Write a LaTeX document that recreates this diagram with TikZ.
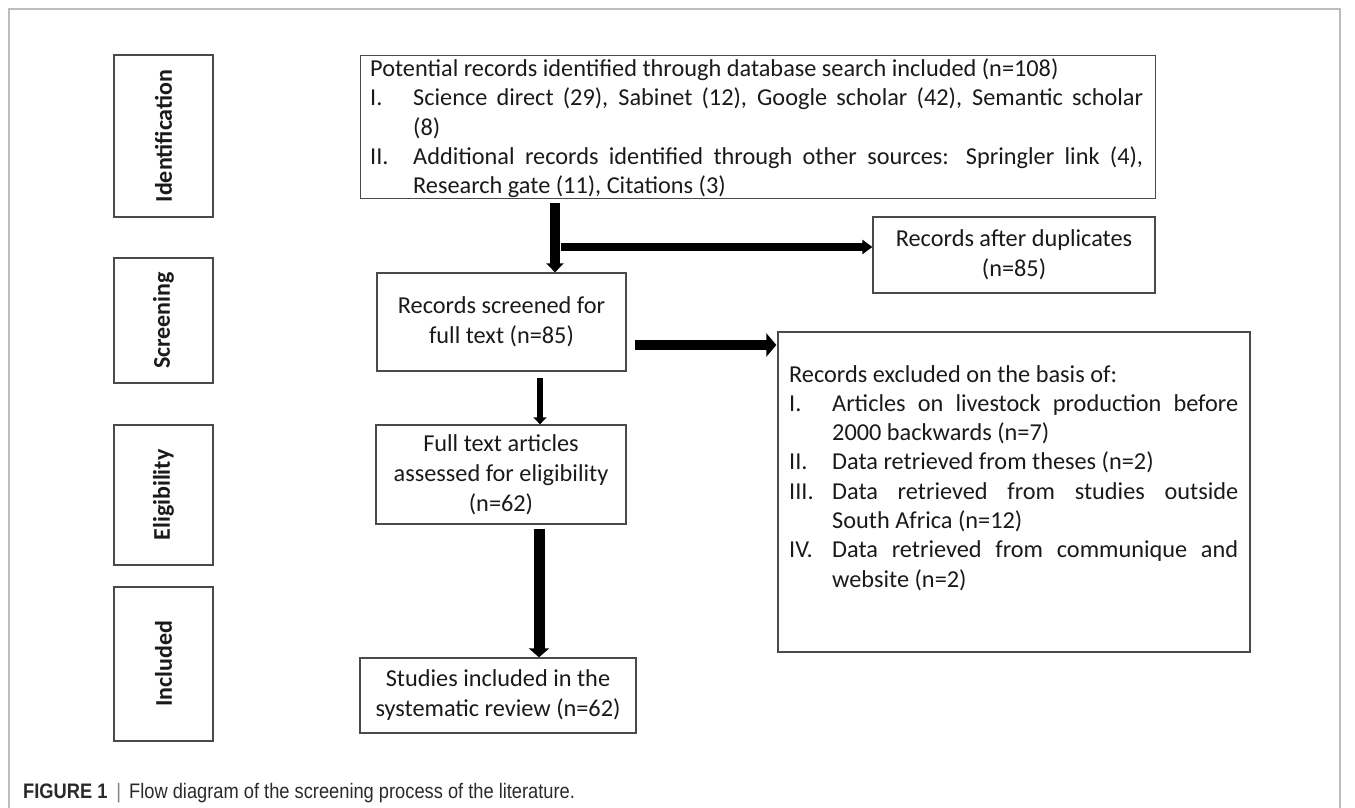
\documentclass[tikz,border=0pt]{standalone}
\usepackage{fontspec}
\setmainfont{Carlito}
\newfontfamily\capfont[FakeStretch=0.87]{Liberation Sans}
\usetikzlibrary{arrows.meta}
\setlength{\parindent}{0pt}
\definecolor{boxcol}{HTML}{4A4A4A}
\definecolor{framecol}{HTML}{BDBDBD}
\definecolor{txtcol}{HTML}{1A1A1A}
\definecolor{capcol}{HTML}{2A2A2A}
\begin{document}
\begin{tikzpicture}[x=1pt,y=-1pt,
  box/.style={draw=boxcol, line width=1.3pt, inner sep=0pt, text=txtcol},
  sidebox/.style={box, rotate=90, minimum height=99pt, font=\bfseries\fontsize{24}{28}\selectfont},
  body/.style={font=\fontsize{24.3}{30}\selectfont, text=txtcol},
  flow/.style={draw=black, line width=#1},
]
\useasboundingbox (0,0) rectangle (1355,808);
% outer frame
\draw[framecol, line width=1.2pt] (9,808) -- (9,9) -- (1340,9) -- (1340,808);

% stage labels
\node[sidebox, minimum width=162pt] (ident) at (163.5,136) {Identification};
\node[sidebox, minimum width=125pt] (screenlbl) at (163.5,320.5) {Screening};
\node[sidebox, minimum width=140pt] (elig) at (163.5,495) {Eligibility};
\node[sidebox, minimum width=154pt] (incl) at (163.5,664) {Included};

% top box
\node[box, minimum width=795pt, minimum height=143pt, anchor=north west] (top) at (360,55) {};
\node[anchor=base west, inner sep=0pt, text width=773pt, align=justify,
      font=\fontsize{24.3}{29.3}\selectfont, text=txtcol] (toptxt) at (370,76.5) {%
Potential records identified through database search included (n=108)\par
\hangindent=43pt\hangafter=1 \makebox[43pt][l]{I.}Science direct (29), Sabinet (12), Google scholar (42), Semantic scholar\linebreak (8)\par
\hangindent=43pt\hangafter=1 \makebox[43pt][l]{II.}Additional records identified through other sources: Springler link (4),\linebreak Research gate (11), Citations (3)\par};

% duplicates
\node[box, body, minimum width=282pt, minimum height=76pt, align=center] (dup) at (1014,255) {Records after duplicates\\(n=85)};

% screened
\node[box, body, minimum width=249pt, minimum height=98pt, align=center] (rscreen) at (501.5,322) {Records screened for\\full text (n=85)};

% full text
\node[box, body, minimum width=250pt, minimum height=99pt, align=center] (full) at (501,474.5) {Full text articles\\assessed for eligibility\\(n=62)};

% studies
\node[box, body, minimum width=276pt, minimum height=75pt, align=center] (studies) at (498,695.5) {Studies included in the\\systematic review (n=62)};

% excluded
\node[box, minimum width=472pt, minimum height=320pt] (excl) at (1014,492) {};
\node[anchor=base west, inner sep=0pt, text width=449pt, align=justify,
      font=\fontsize{24.3}{29.3}\selectfont, text=txtcol] (excltxt) at (789,382) {%
Records excluded on the basis of:\par
\hangindent=43pt\hangafter=1 \makebox[43pt][l]{I.}Articles on livestock production before\linebreak 2000 backwards (n=7)\par
\hangindent=43pt\hangafter=1 \makebox[43pt][l]{II.}Data retrieved from theses (n=2)\par
\hangindent=43pt\hangafter=1 \makebox[43pt][l]{III.}Data retrieved from studies outside\linebreak South Africa (n=12)\par
\hangindent=43pt\hangafter=1 \makebox[43pt][l]{IV.}Data retrieved from communique and\linebreak website (n=2)\par};

% connectors
\coordinate (c1) at (555,0);
\coordinate (c2) at (561,247);
\coordinate (c3) at (635,345);
\coordinate (c4) at (540,0);
\coordinate (c5) at (539,0);
\draw[flow=10pt, -{Triangle[length=9pt,width=17pt]}, shorten <=4pt] (top.south -| c1) -- (rscreen.north -| c1);
\draw[flow=8pt, -{Triangle[length=10pt,width=14pt]}] (c2) -- (c2 -| dup.west);
\draw[flow=10pt, -{Triangle[length=10pt,width=23pt]}, shorten >=1pt] (c3) -- (c3 -| excl.west);
\draw[flow=6.5pt, -{Triangle[length=7pt,width=13pt]}, shorten <=6pt] (rscreen.south -| c4) -- (full.north -| c4);
\draw[flow=11pt, -{Triangle[length=9pt,width=20pt]}, shorten <=4pt] (full.south -| c5) -- (studies.north -| c5);

% caption
\node[anchor=base west, inner sep=0pt, text=capcol, font=\capfont\fontsize{21}{24}\selectfont] (cap) at (23,798)
  {\textbf{FIGURE 1}\hspace{9pt}{\color{gray}|}\hspace{8pt}Flow diagram of the screening process of the literature.};
\end{tikzpicture}
\end{document}
